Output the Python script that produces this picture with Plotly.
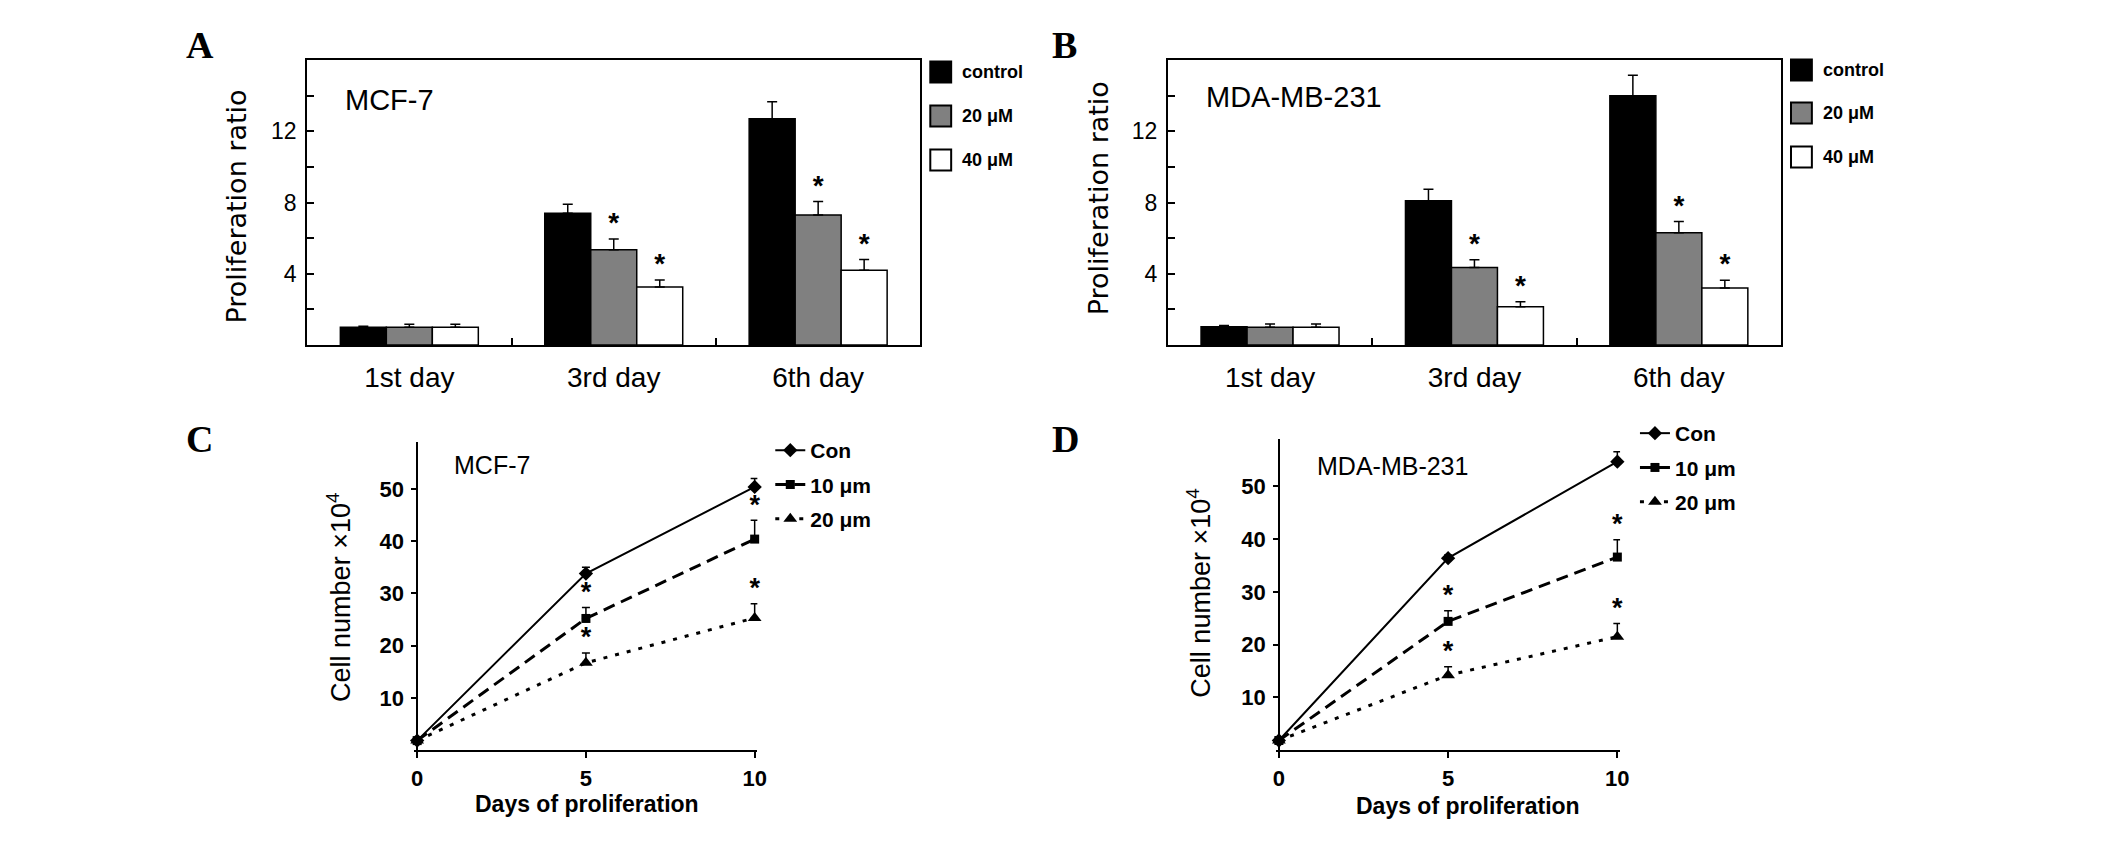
import plotly.graph_objects as go

# ---------------- data ----------------
days = ["1st day", "3rd day", "6th day"]
bar_doses = ["control", "20 μM", "40 μM"]
bar_colors = ["#000000", "#808080", "#ffffff"]

# A: MCF-7 proliferation ratio (mean, upper SD)
mcf7_control = [1.0, 7.4, 12.7]
mcf7_20uM = [1.0, 5.35, 7.3]
mcf7_40uM = [1.0, 3.25, 4.2]
mcf7_control_sd = [0.05, 0.5, 0.95]
mcf7_20uM_sd = [0.17, 0.6, 0.75]
mcf7_40uM_sd = [0.17, 0.4, 0.6]

# B: MDA-MB-231 proliferation ratio
mda_control = [1.03, 8.1, 14.0]
mda_20uM = [1.0, 4.35, 6.3]
mda_40uM = [1.0, 2.15, 3.2]
mda_control_sd = [0.07, 0.65, 1.15]
mda_20uM_sd = [0.18, 0.43, 0.63]
mda_40uM_sd = [0.18, 0.28, 0.43]

no_signif = ["", "", ""]
signif = ["", "*", "*"]

# C / D: cell number x10^4 over days of proliferation
prolif_days = [0, 5, 10]
line_doses = ["Con", "10 μm", "20 μm"]

mcf7_con = [1.8, 33.8, 50.4]
mcf7_10um = [1.8, 25.2, 40.4]
mcf7_20um = [1.8, 16.7, 25.3]
mcf7_con_sd = [0, 1.2, 1.6]
mcf7_10um_sd = [0, 2.1, 3.6]
mcf7_20um_sd = [0, 1.9, 2.7]

mda_con = [1.8, 36.4, 54.7]
mda_10um = [1.8, 24.4, 36.6]
mda_20um = [1.8, 14.2, 21.5]
mda_con_sd = [0, 0.6, 1.9]
mda_10um_sd = [0, 2.0, 3.3]
mda_20um_sd = [0, 1.6, 2.5]

# ---------------- helpers ----------------
W, H = 2126, 866
SANS = "Liberation Sans, Arial, sans-serif"
WIDE = "DejaVu Sans, Liberation Sans, sans-serif"
SERIF = "Liberation Serif, Times New Roman, serif"
BARGAP = 0.325


def fx(px):
    return px / W


def fy(py):
    return 1 - py / H


fig = go.Figure()


def add_stars(xs, tops, sig, xa, ya, size):
    # asterisks sit just above the error bar of significant points
    pts = [(x, t) for x, t, m in zip(xs, tops, sig) if m]
    if not pts:
        return
    fig.add_trace(go.Scatter(
        x=[p[0] for p in pts], y=[p[1] for p in pts],
        mode="text", text=["*"] * len(pts), textposition="top center",
        textfont=dict(family=SANS, size=size, color="black", weight="bold"),
        xaxis=xa, yaxis=ya, showlegend=False, hoverinfo="skip", cliponaxis=False,
    ))


def add_bar_panel(n, means, sds, sigs):
    xa, ya = "x" + n, "y" + n
    bar_w = (1 - BARGAP) / len(means)
    for k, (name, vals, sd, color, sig) in enumerate(zip(bar_doses, means, sds, bar_colors, sigs)):
        fig.add_trace(go.Bar(
            x=list(range(len(days))), y=vals, name=name,
            marker=dict(color=color, line=dict(color="black", width=1.5)),
            error_y=dict(type="data", symmetric=False, array=sd, arrayminus=[0] * len(sd),
                         color="black", thickness=1.5, width=5),
            xaxis=xa, yaxis=ya, showlegend=False,
        ))
        offset = (k - (len(means) - 1) / 2) * bar_w
        add_stars([i + offset for i in range(len(days))],
                  [v + s for v, s in zip(vals, sd)], sig, xa, ya, 28)


def add_line_panel(n, legend, means, sds, sigs):
    xa, ya = "x" + n, "y" + n
    styles = [("solid", 2, "diamond", 11), ("12px,7px", 3, "square", 9), ("4px,8px", 3, "triangle-up", 12)]
    for name, vals, sd, sig, (dash, lw, sym, ms) in zip(line_doses, means, sds, sigs, styles):
        fig.add_trace(go.Scatter(
            x=prolif_days, y=vals, name=name, mode="lines+markers",
            line=dict(color="black", width=lw, dash=dash),
            marker=dict(symbol=sym, size=ms, color="black"),
            error_y=dict(type="data", symmetric=False, array=sd, arrayminus=[0] * len(sd),
                         color="black", thickness=1.5, width=4),
            xaxis=xa, yaxis=ya, legend=legend, legendgroup=legend + name, cliponaxis=False,
        ))
        add_stars(prolif_days, [v + s for v, s in zip(vals, sd)], sig, xa, ya, 27)


add_bar_panel("", [mcf7_control, mcf7_20uM, mcf7_40uM],
              [mcf7_control_sd, mcf7_20uM_sd, mcf7_40uM_sd], [no_signif, signif, signif])
add_bar_panel("2", [mda_control, mda_20uM, mda_40uM],
              [mda_control_sd, mda_20uM_sd, mda_40uM_sd], [no_signif, signif, signif])
add_line_panel("3", "legend", [mcf7_con, mcf7_10um, mcf7_20um],
               [mcf7_con_sd, mcf7_10um_sd, mcf7_20um_sd], [no_signif, signif, signif])
add_line_panel("4", "legend2", [mda_con, mda_10um, mda_20um],
               [mda_con_sd, mda_10um_sd, mda_20um_sd], [no_signif, signif, signif])

# ---------------- axes ----------------
def bar_xaxis(left, right, anchor):
    return dict(
        domain=[fx(left), fx(right)], anchor=anchor, range=[-0.5, 2.5],
        tickvals=[0, 1, 2], ticktext=days, ticks="",
        minor=dict(tickvals=[0.5, 1.5], ticks="inside", ticklen=7, tickwidth=1.5, tickcolor="black"),
        showline=True, mirror=True, linecolor="black", linewidth=2,
        showgrid=False, zeroline=False, ticklabelstandoff=6,
        tickfont=dict(family=SANS, size=28, color="black"),
    )


def bar_yaxis(anchor):
    return dict(
        domain=[fy(345), fy(60)], anchor=anchor, range=[0, 16],
        tickvals=[4, 8, 12], ticks="inside", ticklen=7, tickwidth=1.5, tickcolor="black",
        minor=dict(tickvals=[2, 6, 10, 14], ticks="inside", ticklen=7, tickwidth=1.5, tickcolor="black"),
        showline=True, mirror=True, linecolor="black", linewidth=2,
        showgrid=False, zeroline=False, ticklabelstandoff=4,
        tickfont=dict(family=SANS, size=23, color="black"),
    )


def line_xaxis(left, right, anchor):
    return dict(
        domain=[fx(left), fx(right)], anchor=anchor, range=[-0.08, 10.08],
        tickvals=prolif_days, ticks="outside", ticklen=6, tickwidth=1.5, tickcolor="black",
        showline=True, linecolor="black", linewidth=2,
        showgrid=False, zeroline=False, ticklabelstandoff=2,
        tickfont=dict(family=SANS, size=22, color="black", weight="bold"),
    )


def line_yaxis(top, axis_px, anchor):
    return dict(
        domain=[fy(750), fy(top)], anchor="free", position=fx(axis_px), range=[0, 59],
        tickvals=[10, 20, 30, 40, 50], ticks="outside", ticklen=5, tickwidth=1.5, tickcolor="black",
        showline=True, linecolor="black", linewidth=2,
        showgrid=False, zeroline=False, ticklabelstandoff=3,
        tickfont=dict(family=SANS, size=22, color="black", weight="bold"),
    )


line_legend_font = dict(family=SANS, size=21, color="black", weight="bold")
fig.update_layout(
    width=W, height=H, margin=dict(l=0, r=0, t=0, b=0),
    paper_bgcolor="white", plot_bgcolor="white",
    barmode="group", bargap=BARGAP, bargroupgap=0,
    xaxis=bar_xaxis(306, 923, "y"), yaxis=bar_yaxis("x"),
    xaxis2=bar_xaxis(1172, 1789, "y2"), yaxis2=bar_yaxis("x2"),
    xaxis3=line_xaxis(414, 759, "y3"), yaxis3=line_yaxis(442, 417, "x3"),
    xaxis4=line_xaxis(1281, 1627, "y4"), yaxis4=line_yaxis(439, 1284, "x4"),
    legend=dict(x=fx(772), y=fy(430), xanchor="left", yanchor="top", tracegroupgap=4,
                bgcolor="rgba(0,0,0,0)", font=line_legend_font),
    legend2=dict(x=fx(1642), y=fy(413), xanchor="left", yanchor="top", tracegroupgap=4,
                 bgcolor="rgba(0,0,0,0)", font=line_legend_font),
)

# ---------------- legends of the bar panels ----------------
for right, centres in [(923, [72, 116, 160]), (1789, [70, 113, 157])]:
    for name, color, yc in zip(bar_doses, bar_colors, centres):
        fig.add_shape(type="rect", xref="paper", yref="paper",
                      x0=fx(right + 10), x1=fx(right + 31), y0=fy(yc + 10.5), y1=fy(yc - 10.5),
                      fillcolor=color, line=dict(color="black", width=2))
        fig.add_annotation(text=name, x=fx(right + 40), y=fy(yc), xref="paper", yref="paper",
                           xanchor="left", yanchor="middle", showarrow=False,
                           font=dict(family=SANS, size=18, color="black", weight="bold"))

# ---------------- texts ----------------
def note(text, x, y, size, family=SANS, xanchor="center", angle=0, weight="normal"):
    fig.add_annotation(text=text, x=fx(x), y=fy(y), xref="paper", yref="paper",
                       xanchor=xanchor, yanchor="middle", showarrow=False, textangle=angle,
                       font=dict(family=family, size=size, color="black", weight=weight))


# panel letters
note("A", 198, 45, 38, SERIF, weight="bold")
note("B", 1068, 45, 38, SERIF, weight="bold")
note("C", 198, 439, 38, SERIF, weight="bold")
note("D", 1069, 439, 38, SERIF, weight="bold")

# cell line names
note("MCF-7", 342, 100, 29, xanchor="left")
note("MDA-MB-231", 1208, 97, 29, xanchor="left")
note("MCF-7", 452, 465, 25, xanchor="left")
note("MDA-MB-231", 1320, 466, 25, xanchor="left")

# axis titles
note("Proliferation ratio", 234, 207, 27, WIDE, angle=-90)
note("Proliferation ratio", 1102, 198, 27, WIDE, angle=-90)
note("Cell number ×10<sup>4</sup>", 338, 597, 27, angle=-90)
note("Cell number ×10<sup>4</sup>", 1203, 593, 27, angle=-90)
note("Days of proliferation", 588, 804, 23, weight="bold")
note("Days of proliferation", 1474, 806, 23, weight="bold")

fig.write_html("out.html", config={"displayModeBar": False},
               post_script="document.body.style.margin='0';")
